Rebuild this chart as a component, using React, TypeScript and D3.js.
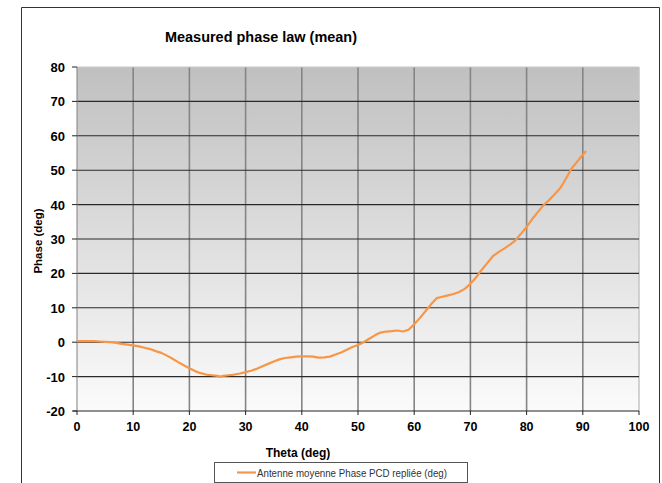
import React from "react";
import * as d3 from "d3";

const theta = [0, 1, 2, 3, 4, 5, 6, 7, 8, 9, 10, 11, 12, 13, 14, 15, 16, 17, 18, 19, 20, 21, 22, 23, 24, 25, 25.5, 26, 27, 28, 29, 30, 31, 32, 33, 34, 35, 36, 37, 38, 39, 40, 41, 42, 43, 44, 45, 46, 47, 48, 49, 50, 51, 52, 53, 54, 55, 56, 57, 58, 59, 60, 61, 62, 63, 64, 65, 66, 67, 68, 69, 70, 71, 72, 73, 74, 75, 76, 77, 78, 79, 80, 81, 82, 83, 84, 85, 86, 87, 88, 89, 90, 90.6];
const phase = [0.3, 0.3, 0.3, 0.3, 0.2, 0.1, 0, -0.2, -0.5, -0.7, -0.9, -1.2, -1.6, -2, -2.6, -3.1, -3.9, -4.8, -5.8, -6.7, -7.6, -8.4, -9, -9.4, -9.6, -9.8, -10, -9.8, -9.6, -9.4, -9.1, -8.7, -8.3, -7.7, -7, -6.3, -5.6, -5, -4.6, -4.4, -4.2, -4.1, -4.1, -4.2, -4.5, -4.4, -4.2, -3.6, -3, -2.2, -1.4, -0.8, 0, 1, 2, 2.8, 3.1, 3.2, 3.4, 3.1, 3.6, 5.2, 7, 9, 11, 12.8, 13.2, 13.6, 14, 14.6, 15.5, 17, 18.8, 21, 23, 25, 26.2, 27.2, 28.3, 29.6, 31.5, 33.5, 35.8, 37.8, 39.8, 41.3, 43, 44.8, 47.5, 50.5, 52.5, 54.5, 55.6];
const xTicks = [0, 10, 20, 30, 40, 50, 60, 70, 80, 90, 100];
const yTicks = [-20, -10, 0, 10, 20, 30, 40, 50, 60, 70, 80];

const W = 662, H = 483;
const left = 77, right = 639, top = 67, bottom = 411;
const font = "'Liberation Sans', Arial, sans-serif";

export default function App() {
  const x = d3.scaleLinear().domain([0, 100]).range([left, right]);
  const y = d3.scaleLinear().domain([-20, 80]).range([bottom, top]);
  const data = theta.map((t, i) => [t, phase[i]] as [number, number]);
  const line = d3.line<[number, number]>().x(d => x(d[0])).y(d => y(d[1]));
  return (
    <svg width={W} height={H} style={{ position: "absolute", left: 0, top: 0, background: "#fff" }}>
      <defs>
        <linearGradient id="bg" x1="0" y1="0" x2="0" y2="1">
          <stop offset="0" stopColor="#c0c0c0" />
          <stop offset="1" stopColor="#fbfbfb" />
        </linearGradient>
      </defs>
      <rect x={0} y={0} width={W} height={H} fill="#fff" />
      <path d={`M21.5,${H} V7.5 H659.5 V${H}`} fill="none" stroke="#333" strokeWidth={1} />
      <text x={165} y={41.5} fontFamily={font} fontWeight="bold" fontSize={14.5} fill="#000" textLength={192} lengthAdjust="spacingAndGlyphs">Measured phase law (mean)</text>
      <rect x={left} y={top} width={right - left} height={bottom - top} fill="url(#bg)" />
      {xTicks.filter(t => t > 0 && t < 100).map(t => (
        <line key={"vx" + t} x1={x(t)} x2={x(t)} y1={top} y2={bottom} stroke="#858585" strokeWidth={1.6} />
      ))}
      <line x1={x(100)} x2={x(100)} y1={top} y2={bottom} stroke="#c4c4c4" strokeWidth={1.5} />
      <line x1={left} x2={right} y1={top} y2={top} stroke="#c8c8c8" strokeWidth={1} />
      {yTicks.filter(t => t > -20 && t < 80).map(t => (
        <line key={"hy" + t} x1={left} x2={right} y1={y(t)} y2={y(t)} stroke="#2a2a2a" strokeWidth={1.1} />
      ))}
      <line x1={left} x2={left} y1={top} y2={bottom} stroke="#808080" strokeWidth={1} />
      <line x1={left - 4} x2={right} y1={bottom} y2={bottom} stroke="#222" strokeWidth={1.1} />
      {yTicks.map(t => (
        <g key={"yt" + t}>
          <line x1={left - 5} x2={left} y1={y(t)} y2={y(t)} stroke="#222" />
          <text x={65} y={y(t) + 5} textAnchor="end" fontFamily={font} fontWeight="bold" fontSize={13} fill="#000">{t}</text>
        </g>
      ))}
      {xTicks.map(t => (
        <g key={"xt" + t}>
          <line x1={x(t)} x2={x(t)} y1={bottom} y2={bottom + 4} stroke="#222" />
          <text x={x(t)} y={bottom + 20} textAnchor="middle" fontFamily={font} fontWeight="bold" fontSize={12.5} fill="#000">{t}</text>
        </g>
      ))}
      <path d={line(data) || ""} fill="none" stroke="#f79646" strokeWidth={2.2} strokeLinejoin="round" />
      <text x={298} y={457} textAnchor="middle" fontFamily={font} fontWeight="bold" fontSize={12} fill="#000">Theta (deg)</text>
      <text transform={`translate(42,241) rotate(-90)`} textAnchor="middle" fontFamily={font} fontWeight="bold" fontSize={11.5} fill="#000">Phase (deg)</text>
      <rect x={214.5} y={462.5} width={253} height={20} fill="#fff" stroke="#555" strokeWidth={1} />
      <line x1={237} x2={256} y1={472.5} y2={472.5} stroke="#f79646" strokeWidth={2.2} />
      <text x={257} y={476.5} fontFamily={font} fontSize={11} fill="#333" textLength={190} lengthAdjust="spacingAndGlyphs">Antenne moyenne Phase PCD repliée (deg)</text>
    </svg>
  );
}
